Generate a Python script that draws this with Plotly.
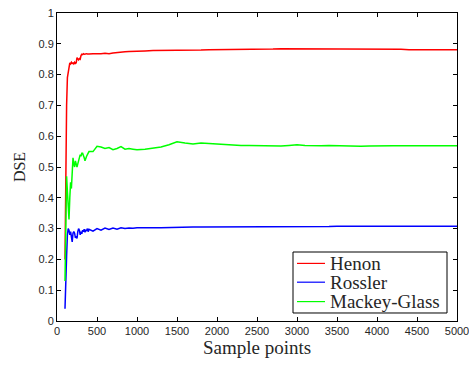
import plotly.graph_objects as go

sample_points = [100, 110, 120, 130, 140, 150, 160, 170, 180, 190, 200, 210, 220, 230, 240, 250,
                 260, 270, 280, 290, 300, 310, 320, 330, 340, 350, 360, 370, 380, 390, 400,
                 450, 500, 550, 600, 650, 700, 750, 800, 850, 900, 950, 1000,
                 1100, 1200, 1300, 1400, 1500, 1600, 1700, 1800, 1900, 2000,
                 2100, 2200, 2300, 2400, 2500, 2600, 2700, 2800, 2900, 3000,
                 3100, 3200, 3300, 3400, 3500, 3600, 3700, 3800, 3900, 4000,
                 4100, 4200, 4300, 4400, 4500, 4600, 4700, 4800, 4900, 5000]

henon = [0.20, 0.62, 0.70, 0.79, 0.81, 0.83, 0.838, 0.835, 0.84, 0.836, 0.838, 0.835, 0.84, 0.836, 0.838, 0.855,
         0.85, 0.848, 0.852, 0.85, 0.862, 0.866, 0.865, 0.868, 0.866, 0.867, 0.866, 0.868, 0.867, 0.868, 0.867,
         0.868, 0.867, 0.868, 0.869, 0.868, 0.870, 0.872, 0.873, 0.874, 0.875, 0.876, 0.877,
         0.877, 0.878, 0.878, 0.879, 0.879, 0.880, 0.880, 0.880, 0.881, 0.881,
         0.881, 0.882, 0.882, 0.882, 0.883, 0.883, 0.883, 0.884, 0.884, 0.884,
         0.883, 0.883, 0.883, 0.883, 0.883, 0.884, 0.883, 0.883, 0.883, 0.883,
         0.882, 0.882, 0.882, 0.881, 0.881, 0.881, 0.881, 0.881, 0.881, 0.881]

rossler = [0.04, 0.20, 0.21, 0.28, 0.30, 0.295, 0.28, 0.29, 0.26, 0.257, 0.285, 0.29, 0.285, 0.27, 0.275, 0.268,
           0.29, 0.30, 0.295, 0.28, 0.29, 0.283, 0.295, 0.29, 0.298, 0.288, 0.296, 0.292, 0.30, 0.29, 0.298,
           0.292, 0.30, 0.295, 0.302, 0.297, 0.302, 0.298, 0.303, 0.30, 0.302, 0.301, 0.303,
           0.302, 0.303, 0.303, 0.304, 0.304, 0.305, 0.305, 0.305, 0.305, 0.306,
           0.306, 0.306, 0.306, 0.306, 0.306, 0.307, 0.306, 0.306, 0.307, 0.307,
           0.307, 0.307, 0.307, 0.307, 0.308, 0.308, 0.308, 0.308, 0.308, 0.308,
           0.308, 0.308, 0.309, 0.309, 0.309, 0.309, 0.309, 0.309, 0.309, 0.308]

mackey_glass = [0.13, 0.30, 0.47, 0.42, 0.36, 0.33, 0.40, 0.45, 0.43, 0.47, 0.53, 0.51, 0.50, 0.52, 0.505, 0.50,
                0.51, 0.52, 0.53, 0.54, 0.535, 0.545, 0.545, 0.54, 0.53, 0.52, 0.53, 0.535, 0.54, 0.545, 0.55,
                0.55, 0.567, 0.565, 0.56, 0.563, 0.556, 0.56, 0.566, 0.558, 0.56, 0.558, 0.556,
                0.558, 0.562, 0.565, 0.572, 0.582, 0.578, 0.575, 0.578, 0.576, 0.574,
                0.573, 0.572, 0.570, 0.570, 0.569, 0.570, 0.568, 0.568, 0.570, 0.572,
                0.570, 0.569, 0.569, 0.570, 0.569, 0.568, 0.567, 0.567, 0.568, 0.569,
                0.569, 0.569, 0.569, 0.569, 0.569, 0.569, 0.569, 0.569, 0.569, 0.569]

series_names = ["Henon", "Rossler", "Mackey-Glass"]
series_values = [henon, rossler, mackey_glass]
series_colors = ["#ff0000", "#0000ff", "#00ff00"]

SERIF = "Liberation Serif, Times New Roman, serif"
SANS = "Liberation Sans, Arial, sans-serif"
TEXT = "#262626"

fig = go.Figure()
for name, ys, col in zip(series_names, series_values, series_colors):
    fig.add_trace(go.Scatter(x=sample_points, y=ys, mode="lines", name=name,
                             line=dict(color=col, width=1.5), showlegend=False))

axis_common = dict(showline=True, linecolor="black", linewidth=1, mirror="ticks",
                   ticks="inside", ticklen=4, tickcolor="black", showgrid=False, zeroline=False,
                   automargin=False, ticklabeloverflow="allow",
                   tickfont=dict(family=SANS, size=11, color=TEXT))

fig.update_xaxes(range=[0, 5000], dtick=500, tick0=0,
                 title=dict(text="Sample points", font=dict(family=SERIF, size=19, color=TEXT), standoff=3),
                 **axis_common)
fig.update_yaxes(range=[0, 1], dtick=0.1, tick0=0,
                 title=dict(text="DSE", font=dict(family=SERIF, size=16, color=TEXT), standoff=8),
                 **axis_common)

# Legend box (drawn in paper coordinates, tight row spacing as in the reference)
shapes = [dict(type="rect", xref="paper", yref="paper", x0=0.59, x1=0.975, y0=0.026, y1=0.224,
               line=dict(color="black", width=1), fillcolor="white", layer="above")]
annotations = []
row_y = [0.187, 0.126, 0.063]
for name, col, ry in zip(series_names, series_colors, row_y):
    shapes.append(dict(type="line", xref="paper", yref="paper", x0=0.60, x1=0.67, y0=ry, y1=ry,
                       line=dict(color=col, width=1.2), layer="above"))
    annotations.append(dict(xref="paper", yref="paper", x=0.6775, y=ry, text=name, showarrow=False,
                            xanchor="left", yanchor="middle",
                            font=dict(family=SERIF, size=19, color=TEXT)))

fig.update_layout(
    width=469, height=365,
    margin=dict(l=57, r=12, t=13, b=44),
    paper_bgcolor="white", plot_bgcolor="white",
    shapes=shapes, annotations=annotations,
    showlegend=False,
)

fig.write_html("out.html")
